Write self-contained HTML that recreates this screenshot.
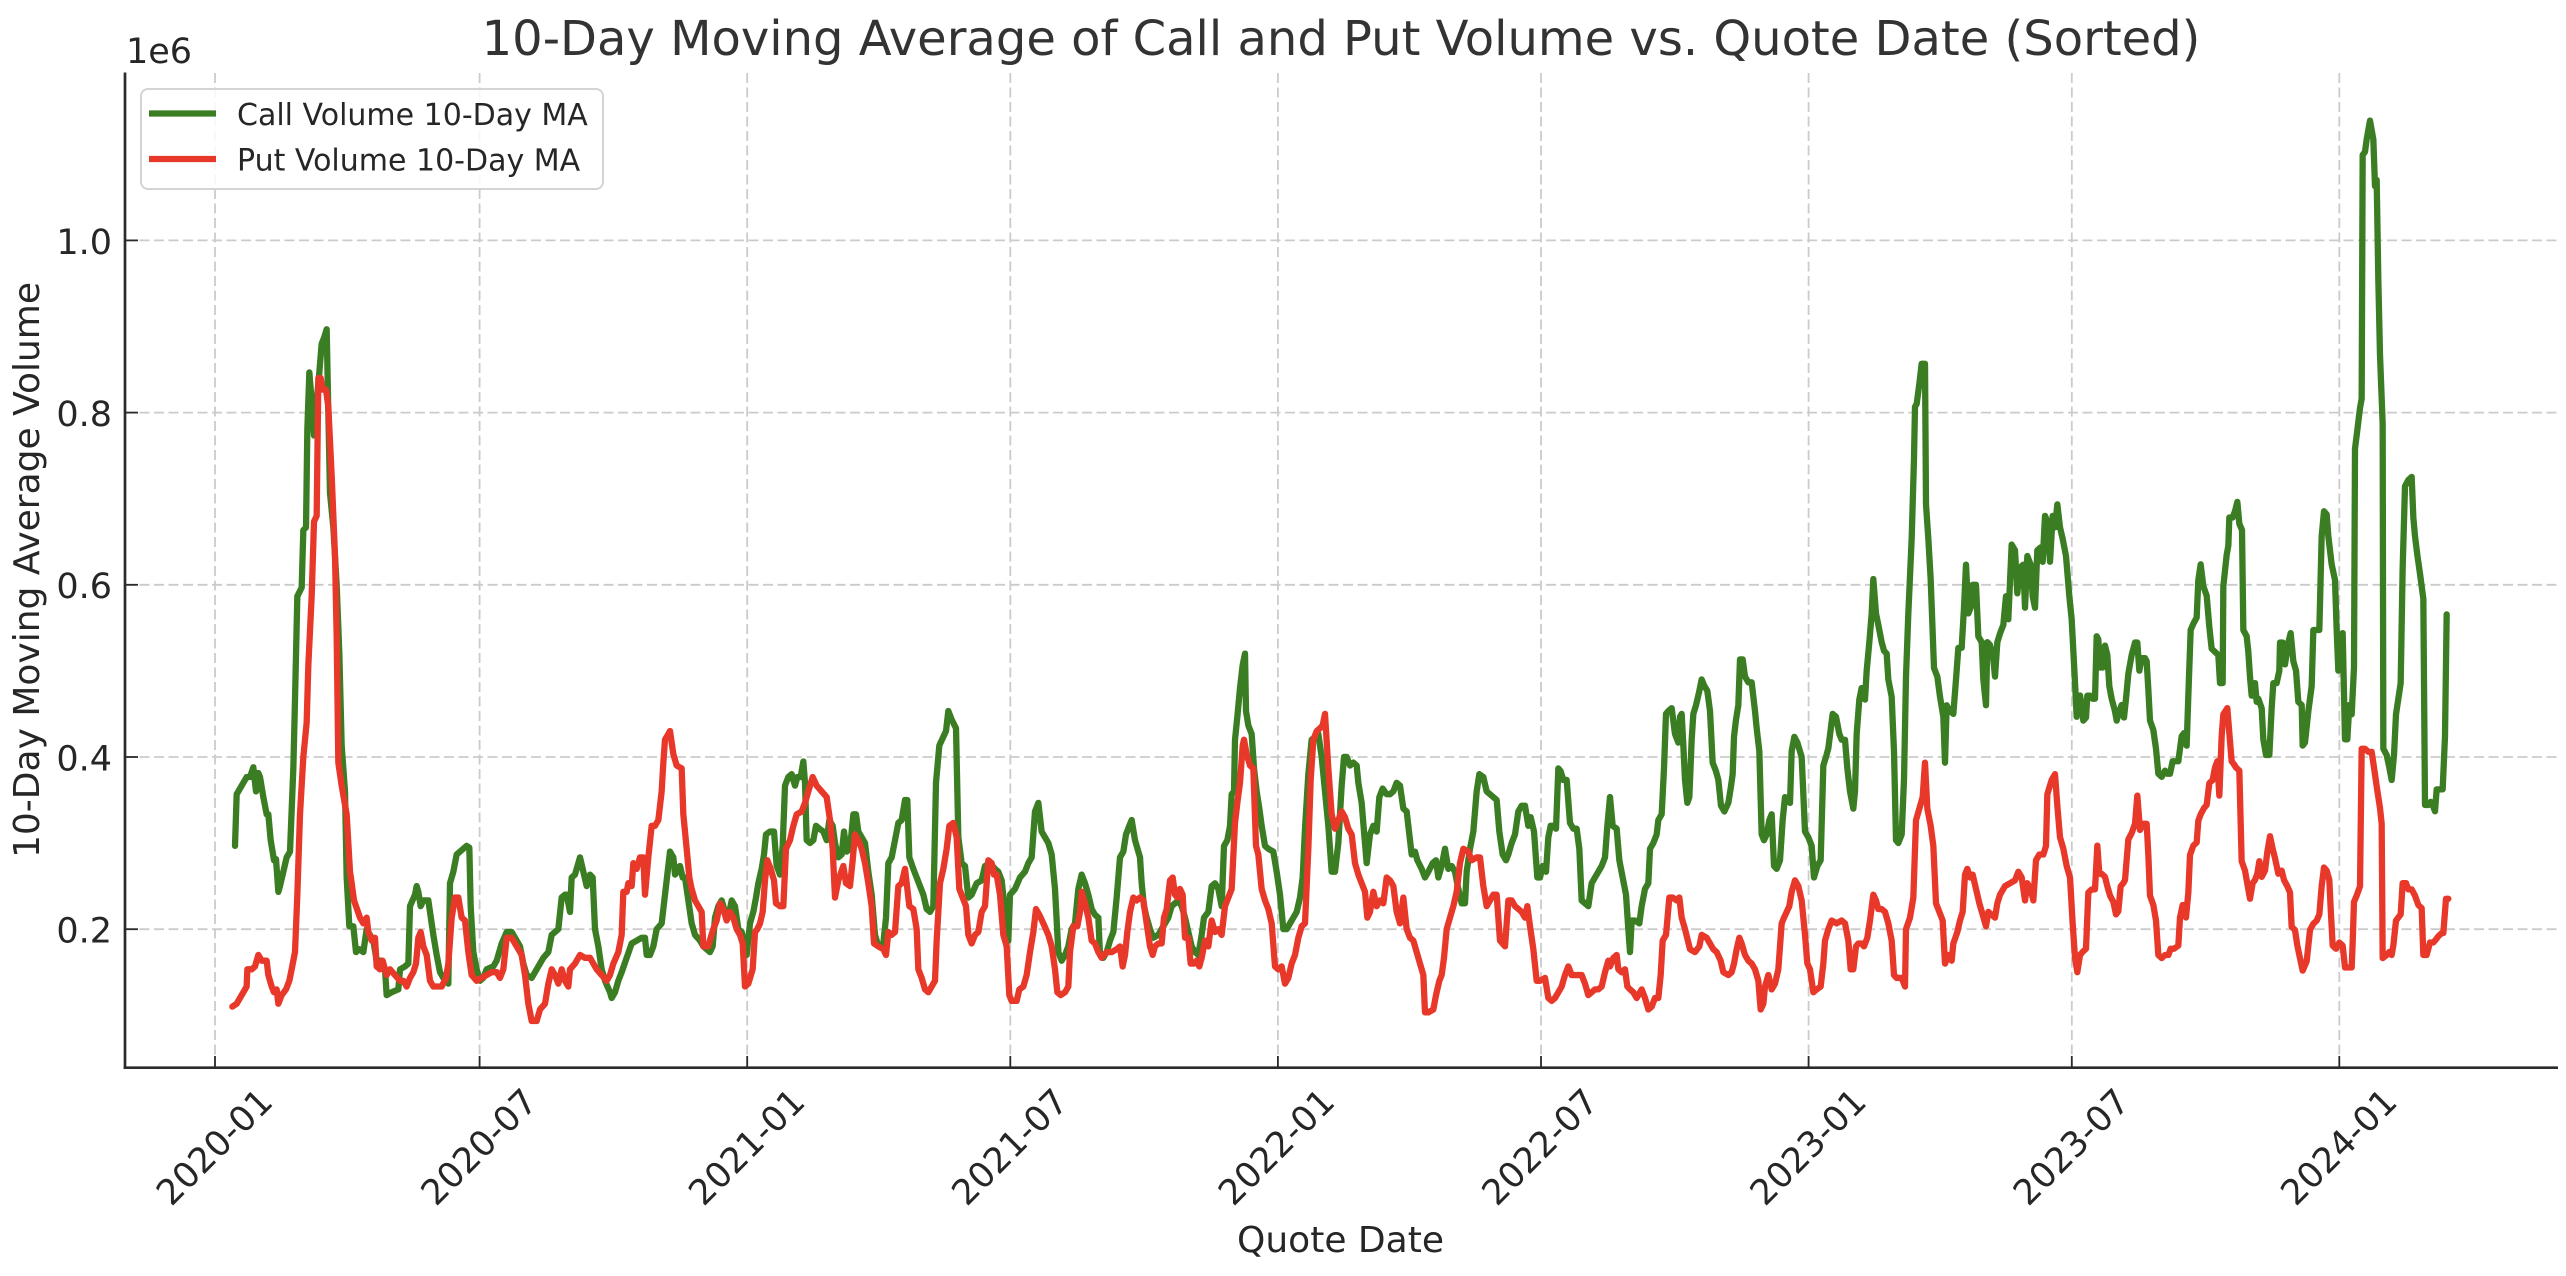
<!DOCTYPE html>
<html><head><meta charset="utf-8"><style>
html,body{margin:0;padding:0;background:#fff;}
svg{display:block;}
text{font-family:"DejaVu Sans","Liberation Sans",sans-serif;fill:#262626;}
</style></head><body>
<svg width="2566" height="1276" viewBox="0 0 2566 1276" xmlns="http://www.w3.org/2000/svg">
<rect width="2566" height="1276" fill="#fff"/>
<!-- grid -->
<g stroke="#cbcbcb" stroke-width="1.8" stroke-dasharray="10 4.5" fill="none">
<line x1="215" y1="73" x2="215" y2="1068"/>
<line x1="479.6" y1="73" x2="479.6" y2="1068"/>
<line x1="747.2" y1="73" x2="747.2" y2="1068"/>
<line x1="1010.3" y1="73" x2="1010.3" y2="1068"/>
<line x1="1277.9" y1="73" x2="1277.9" y2="1068"/>
<line x1="1541" y1="73" x2="1541" y2="1068"/>
<line x1="1808.6" y1="73" x2="1808.6" y2="1068"/>
<line x1="2071.8" y1="73" x2="2071.8" y2="1068"/>
<line x1="2339.3" y1="73" x2="2339.3" y2="1068"/>
<line x1="125" y1="240.4" x2="2557" y2="240.4"/>
<line x1="125" y1="412.6" x2="2557" y2="412.6"/>
<line x1="125" y1="584.8" x2="2557" y2="584.8"/>
<line x1="125" y1="757" x2="2557" y2="757"/>
<line x1="125" y1="929.2" x2="2557" y2="929.2"/>
</g>
<!-- series -->
<g fill="none" stroke-linejoin="round" stroke-linecap="round">
<g stroke="#3a7d22">
<polyline vector-effect="non-scaling-stroke" stroke-width="6.3" transform="translate(200,160) scale(0.333333,0.57398)" points="105,1195 110,1105 140,1075 150,1075 160,1058 168,1100 175,1068 180,1075 190,1110 200,1140 205,1140 212,1185 222,1220 228,1218 232,1250 235,1275 240,1265 250,1240 260,1215 270,1205 280,1060 285,940 292,760 305,745 310,645 318,640 322,470 328,370 335,420 342,480 350,420 358,370 365,320 372,310 380,295 385,440 390,580 400,640 410,740 418,860 425,1020 435,1100 440,1250 448,1335 460,1335 468,1380 478,1375 490,1380 500,1340 510,1350 520,1360 530,1395 545,1395 555,1410 560,1455 575,1450 595,1445 600,1410 615,1405 625,1400 630,1300 645,1280 650,1265 655,1275 662,1300 670,1290 685,1290 690,1310 700,1350 710,1385 720,1415 735,1430 745,1435 750,1260 760,1240 770,1210 780,1205 790,1200 800,1195 808,1198 812,1300 820,1380 830,1410 840,1430 850,1425 860,1410 880,1405 890,1395 905,1365 920,1345 935,1345 945,1355 960,1370 970,1400 980,1420 995,1425 1005,1415 1020,1400 1030,1390 1045,1380 1055,1350 1065,1345 1075,1340 1085,1285 1095,1280 1100,1280 1110,1310 1115,1250 1125,1245 1140,1215 1148,1235 1160,1265 1170,1245 1178,1250 1185,1340 1195,1370 1205,1410 1215,1430 1230,1450 1235,1460 1245,1450 1255,1430 1265,1415 1280,1390 1295,1365 1310,1360 1325,1355 1335,1355 1340,1385 1350,1385 1360,1370 1370,1340 1385,1330 1395,1280 1410,1205"/>
<polyline vector-effect="non-scaling-stroke" stroke-width="6.3" transform="translate(670,160) scale(0.333333,0.57398)" points="0,1205 10,1215 15,1245 22,1240 30,1230 38,1250 45,1250 55,1290 65,1330 75,1350 90,1360 100,1370 110,1375 120,1380 128,1370 135,1320 145,1300 155,1290 165,1310 175,1320 185,1290 195,1300 205,1340 215,1345 222,1360 230,1385 240,1330 250,1310 258,1285 265,1260 275,1235 282,1210 288,1175 300,1170 312,1170 320,1230 330,1245 338,1195 345,1090 355,1075 365,1070 375,1090 382,1075 392,1075 400,1048 405,1085 410,1185 420,1190 430,1185 438,1160 448,1165 460,1170 470,1185 478,1150 488,1160 495,1190 505,1215 515,1210 522,1170 530,1205 540,1200 550,1140 558,1140 565,1170 575,1180 585,1190 595,1240 605,1280 615,1350 625,1370 640,1365 648,1320 655,1225 665,1215 675,1185 685,1155 695,1150 705,1115 712,1115 718,1215 730,1235 740,1250 750,1265 760,1280 770,1305 780,1310 790,1300 798,1085 808,1020 820,1005 828,995 835,960 845,975 858,990 865,1180 875,1225 885,1230 895,1285 905,1280 920,1260 935,1255 945,1230 960,1225 975,1235 985,1240 995,1255 1005,1310 1015,1360 1020,1280 1035,1270 1050,1250 1065,1240 1075,1225 1085,1215 1095,1135 1105,1120 1115,1170 1125,1180 1135,1190 1145,1210 1155,1270 1165,1380 1175,1395 1185,1385 1195,1370 1205,1340 1215,1330 1225,1270 1235,1245 1245,1260 1255,1280 1265,1305 1275,1315 1285,1320 1290,1385 1300,1390 1310,1380 1320,1360 1330,1345 1340,1285 1350,1215 1360,1205 1368,1175 1378,1160 1385,1150 1395,1185 1410,1215"/>
<polyline vector-effect="non-scaling-stroke" stroke-width="6.3" transform="translate(1140,160) scale(0.333333,0.57398)" points="0,1215 5,1260 12,1300 20,1320 30,1340 40,1355 55,1350 65,1340 75,1330 85,1320 95,1300 105,1295 115,1290 125,1300 135,1320 145,1345 155,1370 165,1380 175,1385 185,1350 192,1320 205,1310 215,1265 225,1260 235,1270 245,1300 252,1195 262,1185 270,1160 275,1105 282,1100 285,1010 292,970 300,920 308,880 315,860 318,960 325,985 335,1000 342,1060 350,1100 358,1130 365,1160 375,1195 385,1200 400,1205 410,1240 420,1280 430,1340 440,1340 450,1330 460,1320 470,1310 480,1285 488,1250 495,1165 505,1070 515,1010 525,1005 535,1000 545,1040 555,1100 565,1160 575,1240 585,1240 595,1190 605,1090 612,1040 620,1040 630,1055 640,1050 650,1055 655,1085 665,1120 672,1170 680,1225 690,1175 700,1160 710,1170 718,1110 728,1095 740,1105 750,1105 760,1100 770,1085 780,1090 790,1130 800,1135 808,1175 815,1210 825,1205 832,1220 845,1235 855,1250 865,1240 878,1225 888,1220 895,1250 905,1230 915,1200 925,1235 935,1230 945,1240 955,1270 965,1295 975,1295 980,1240 990,1200 1000,1170 1010,1100 1018,1070 1030,1075 1040,1100 1050,1105 1060,1110 1070,1115 1078,1170 1088,1210 1098,1220 1105,1210 1115,1190 1125,1175 1135,1135 1145,1125 1155,1125 1165,1160 1172,1145 1182,1170 1192,1250 1200,1250 1208,1230 1218,1240 1225,1180 1232,1160 1240,1160 1248,1165 1255,1060 1262,1065 1270,1080 1280,1080 1290,1155 1300,1165 1310,1165 1318,1200 1325,1290 1335,1295 1345,1300 1355,1260 1365,1250 1375,1240 1385,1230 1395,1215 1402,1160 1410,1110"/>
<polyline vector-effect="non-scaling-stroke" stroke-width="6.3" transform="translate(1610,160) scale(0.333333,0.57398)" points="0,1110 8,1160 20,1165 28,1220 38,1250 48,1280 55,1340 60,1380 65,1325 75,1325 88,1330 95,1300 105,1270 115,1260 120,1200 130,1190 140,1175 145,1150 155,1140 162,1060 168,965 175,960 185,955 195,1000 205,1015 210,970 215,965 220,1020 225,1080 232,1120 238,1110 245,1010 250,965 258,950 268,925 275,905 282,915 292,925 300,960 308,1050 318,1065 325,1080 333,1125 343,1135 355,1120 362,1095 368,1070 372,1005 378,975 385,950 390,870 398,870 405,900 415,910 425,910 435,960 440,990 448,1030 455,1175 462,1185 470,1175 478,1150 485,1140 492,1230 500,1235 510,1220 518,1150 525,1110 535,1115 540,1120 545,1030 553,1005 562,1015 575,1040 585,1170 595,1180 605,1195 612,1250 622,1230 632,1220 640,1055 648,1040 655,1025 668,965 678,970 688,1000 695,1010 705,1010 712,1060 720,1100 730,1130 735,1100 740,1000 748,940 755,920 765,940 770,890 778,840 785,790 790,730 798,790 805,810 815,840 822,855 830,860 835,905 845,935 852,1030 858,1185 865,1190 875,1175 882,1080 888,900 895,790 905,660 912,520 915,430 920,425 928,390 935,355 945,355 948,600 955,660 962,730 972,885 982,900 990,935 1000,970 1005,1050 1010,950 1020,960 1030,965 1038,905 1045,850 1055,850 1062,780 1068,705 1075,790 1082,780 1088,740 1098,740 1105,830 1115,840 1120,905 1128,950 1132,840 1140,845 1150,870 1155,900 1162,840 1170,825 1180,810 1188,760 1195,800 1205,670 1215,680 1222,755 1230,710 1240,705 1245,780 1252,690 1262,705 1268,760 1275,780 1282,680 1292,675 1298,700 1305,620 1312,630 1320,700 1328,620 1335,640 1342,600 1350,640 1358,660 1368,690 1378,760 1385,800 1395,910 1400,970 1410,933"/>
<polyline vector-effect="non-scaling-stroke" stroke-width="6.3" transform="translate(2080,80) scale(0.333333,0.625)" points="0,985 5,1000 10,1025 18,1020 22,985 30,985 38,990 45,990 50,890 55,895 60,940 68,940 75,905 82,920 88,970 95,990 105,1010 110,1025 118,1010 125,1000 132,1020 138,990 145,950 155,920 165,900 172,900 178,945 185,925 195,925 200,930 205,975 210,1025 220,1040 228,1070 235,1110 245,1115 255,1105 262,1110 270,1110 278,1090 285,1090 295,1090 300,1070 305,1050 312,1045 320,1065 325,985 332,880 340,870 350,860 355,800 362,775 370,810 380,825 388,875 395,910 405,915 415,920 420,965 428,965 430,810 440,760 445,745 448,700 458,700 465,690 472,675 478,710 486,720 490,880 500,890 505,915 510,955 515,985 520,985 525,965 530,995 535,990 545,1005 550,1055 558,1080 568,1080 575,1005 580,965 590,965 598,945 600,900 608,900 615,935 625,900 632,885 640,930 648,945 655,995 665,1000 668,1065 675,1060 685,1010 695,970 700,880 708,880 718,880 725,730 732,690 740,695 745,730 755,775 765,800 770,880 775,945 780,900 788,885 795,1055 802,1055 808,1000 815,1015 822,940 825,590 832,560 840,525 845,510 848,120 855,115 860,95 865,80 870,65 880,95 885,170 890,160 895,320 900,440 908,550 910,1070 920,1080 928,1100 935,1120 942,1080 948,1015 955,990 962,965 968,780 975,650 985,640 995,635 1000,700 1005,730 1012,760 1020,790 1030,830 1035,1160 1045,1160 1052,1155 1058,1160 1065,1170 1070,1135 1080,1135 1088,1135 1095,1050 1100,855"/>
</g>
<g stroke="#e8382a">
<polyline vector-effect="non-scaling-stroke" stroke-width="6.3" transform="translate(200,160) scale(0.333333,0.57398)" points="97,1475 110,1470 125,1455 140,1440 142,1410 155,1410 165,1405 175,1385 185,1395 200,1395 205,1420 215,1440 222,1450 230,1445 235,1470 245,1455 258,1445 268,1430 275,1410 285,1380 292,1280 300,1140 310,1040 320,980 325,880 335,760 342,630 350,620 355,380 362,380 368,400 378,400 385,430 395,550 405,690 410,830 415,1050 425,1090 440,1140 450,1240 455,1260 462,1290 468,1300 480,1320 490,1330 500,1320 505,1345 515,1360 525,1355 530,1405 540,1410 548,1395 555,1410 560,1420 570,1410 585,1420 600,1430 610,1430 620,1440 630,1425 640,1415 648,1400 655,1355 662,1345 670,1370 680,1385 690,1430 700,1440 715,1440 725,1440 738,1425 745,1400 755,1320 765,1285 775,1285 785,1320 795,1325 805,1380 815,1420 830,1430 845,1425 860,1420 875,1415 890,1415 900,1425 910,1410 920,1355 935,1355 945,1365 955,1375 965,1385 975,1420 985,1470 995,1500 1010,1500 1020,1480 1035,1470 1045,1435 1055,1410 1065,1420 1075,1435 1085,1410 1095,1430 1105,1440 1110,1410 1125,1400 1140,1385 1155,1390 1170,1390 1180,1400 1190,1410 1205,1420 1220,1430 1230,1420 1240,1400 1255,1380 1265,1350 1270,1275 1280,1275 1285,1260 1295,1265 1300,1225 1310,1235 1320,1215 1330,1215 1335,1280 1345,1215 1355,1160 1365,1160 1375,1150 1385,1100 1390,1050 1395,1010 1410,995"/>
<polyline vector-effect="non-scaling-stroke" stroke-width="6.3" transform="translate(670,160) scale(0.333333,0.57398)" points="0,995 10,1035 20,1055 35,1060 40,1140 50,1200 58,1250 65,1270 75,1290 85,1300 95,1310 100,1370 115,1370 122,1355 130,1340 140,1325 150,1295 160,1305 170,1325 180,1310 190,1320 200,1340 210,1350 218,1365 225,1440 235,1435 248,1410 255,1345 262,1340 270,1330 278,1310 285,1255 292,1220 302,1235 312,1255 318,1295 330,1300 340,1300 348,1200 360,1185 370,1160 380,1140 395,1135 405,1120 415,1100 428,1075 440,1090 455,1100 470,1110 480,1150 488,1200 495,1285 505,1255 520,1230 528,1260 540,1265 548,1220 555,1175 565,1185 575,1200 585,1225 595,1260 605,1300 612,1365 625,1370 640,1375 648,1385 655,1345 665,1350 675,1345 685,1265 695,1260 705,1235 710,1260 718,1300 730,1305 740,1340 745,1410 755,1425 765,1445 775,1450 785,1440 795,1430 800,1360 810,1260 820,1235 830,1200 838,1160 850,1155 860,1180 868,1270 878,1285 888,1300 895,1350 905,1365 915,1350 925,1345 935,1310 945,1300 955,1220 965,1225 972,1245 980,1245 990,1280 1000,1350 1010,1370 1018,1455 1025,1465 1040,1465 1048,1445 1060,1440 1070,1420 1080,1380 1090,1345 1098,1305 1108,1315 1120,1330 1135,1350 1145,1370 1155,1410 1162,1450 1172,1455 1185,1450 1195,1440 1200,1380 1210,1335 1222,1335 1230,1310 1235,1275 1245,1295 1255,1320 1265,1360 1275,1365 1285,1380 1295,1390 1310,1380 1325,1380 1340,1375 1350,1370 1358,1405 1365,1385 1372,1345 1380,1310 1390,1285 1400,1290 1410,1285"/>
<polyline vector-effect="non-scaling-stroke" stroke-width="6.3" transform="translate(1140,160) scale(0.333333,0.57398)" points="0,1285 10,1290 20,1330 30,1370 38,1385 45,1370 55,1365 65,1365 72,1320 80,1305 90,1255 98,1250 105,1280 112,1285 120,1270 128,1280 135,1355 145,1355 152,1400 162,1400 170,1395 178,1405 185,1390 195,1360 205,1370 215,1325 225,1345 235,1340 245,1350 255,1300 265,1285 275,1270 285,1155 292,1120 300,1085 308,1020 312,1010 320,1035 330,1055 340,1060 348,1195 355,1210 365,1270 375,1290 385,1305 395,1330 405,1405 415,1410 425,1405 435,1435 445,1425 455,1400 465,1385 475,1355 485,1335 495,1330 505,1200 512,1080 520,1010 530,995 540,990 548,985 555,965 565,1060 575,1140 585,1165 595,1150 605,1135 615,1145 625,1165 635,1175 645,1225 655,1245 665,1260 675,1275 682,1320 690,1310 700,1275 710,1300 720,1290 730,1295 740,1250 750,1255 760,1265 770,1310 780,1330 790,1285 800,1340 810,1355 820,1360 830,1380 840,1400 850,1420 855,1485 865,1485 880,1480 888,1455 898,1430 905,1420 912,1390 920,1340 930,1320 940,1300 950,1275 960,1225 970,1200 985,1205 995,1220 1010,1215 1020,1215 1030,1265 1040,1300 1050,1290 1060,1280 1070,1280 1080,1360 1095,1370 1105,1290 1115,1290 1125,1300 1135,1305 1145,1310 1155,1320 1162,1300 1170,1335 1180,1375 1190,1430 1200,1430 1215,1425 1225,1460 1235,1465 1245,1460 1255,1450 1265,1440 1275,1420 1285,1405 1295,1420 1310,1420 1325,1420 1335,1435 1345,1455 1355,1450 1365,1445 1375,1445 1385,1440 1395,1415 1405,1395 1410,1400"/>
<polyline vector-effect="non-scaling-stroke" stroke-width="6.3" transform="translate(1610,160) scale(0.333333,0.57398)" points="0,1405 10,1390 20,1385 25,1410 35,1415 45,1410 52,1440 60,1445 70,1450 80,1460 95,1445 105,1460 115,1480 125,1475 135,1460 145,1460 152,1420 158,1360 168,1350 178,1285 188,1285 200,1290 208,1285 215,1320 225,1340 240,1375 255,1380 268,1370 275,1350 290,1355 300,1365 310,1375 320,1380 332,1395 340,1415 355,1420 365,1415 372,1400 380,1375 388,1355 395,1365 405,1385 415,1395 425,1400 435,1410 445,1430 452,1480 460,1470 465,1440 475,1420 485,1445 495,1435 505,1410 515,1330 522,1320 530,1310 538,1300 545,1275 555,1255 565,1265 575,1290 585,1350 592,1400 600,1410 610,1450 620,1445 632,1440 640,1400 645,1360 655,1340 665,1325 680,1330 695,1325 705,1330 715,1360 722,1410 730,1410 738,1370 745,1365 755,1365 762,1370 772,1355 780,1325 790,1280 798,1290 805,1305 815,1305 825,1310 835,1330 845,1360 852,1420 860,1425 875,1425 885,1440 888,1340 900,1320 910,1285 918,1150 928,1130 938,1110 945,1050 952,1130 962,1160 970,1195 978,1295 988,1310 998,1325 1005,1400 1015,1385 1025,1395 1030,1365 1042,1345 1050,1325 1058,1310 1065,1245 1072,1235 1080,1250 1088,1245 1098,1270 1108,1295 1118,1315 1128,1335 1135,1310 1145,1315 1155,1320 1162,1295 1170,1280 1185,1265 1200,1260 1215,1255 1225,1240 1235,1250 1245,1290 1252,1260 1262,1270 1270,1290 1278,1220 1288,1210 1300,1210 1308,1195 1312,1105 1325,1080 1335,1070 1342,1125 1350,1180 1360,1200 1370,1230 1380,1250 1388,1330 1395,1390 1402,1415 1410,1385"/>
<polyline vector-effect="non-scaling-stroke" stroke-width="6.3" transform="translate(2080,80) scale(0.333333,0.625)" points="0,1400 8,1395 18,1390 25,1300 35,1295 45,1295 52,1225 58,1270 65,1270 75,1275 82,1290 90,1305 100,1315 108,1335 115,1330 122,1290 130,1285 135,1280 145,1215 155,1205 165,1190 172,1145 180,1200 190,1190 200,1190 205,1240 210,1305 220,1320 228,1345 235,1400 245,1405 255,1400 265,1400 272,1390 282,1390 295,1385 300,1340 308,1320 318,1340 325,1300 330,1240 340,1225 350,1220 355,1185 362,1175 372,1165 380,1160 388,1125 398,1120 405,1100 412,1090 418,1145 425,1050 430,1015 442,1005 448,1045 455,1090 462,1095 468,1100 478,1105 485,1250 495,1265 500,1280 510,1310 518,1285 525,1280 532,1270 538,1250 545,1275 555,1265 562,1235 570,1210 578,1230 585,1245 595,1270 605,1265 612,1280 622,1290 630,1300 635,1355 645,1360 652,1385 660,1405 668,1425 680,1410 690,1360 700,1350 710,1345 718,1335 725,1290 732,1260 740,1265 748,1280 752,1325 758,1385 768,1390 778,1380 788,1385 795,1420 805,1420 815,1420 818,1380 822,1315 830,1305 840,1290 845,1070 855,1070 865,1075 875,1075 882,1100 890,1130 900,1165 905,1190 908,1405 920,1400 928,1395 935,1400 940,1385 948,1345 955,1340 962,1335 968,1285 978,1285 985,1295 995,1295 1005,1305 1015,1320 1025,1325 1030,1400 1040,1400 1050,1380 1060,1380 1068,1375 1075,1370 1085,1365 1090,1365 1098,1310 1105,1310"/>
</g>
</g>
<!-- spines -->
<g stroke="#2b2b2b" fill="none">
<line x1="125" y1="72.5" x2="125" y2="1069" stroke-width="2.7"/>
<line x1="123.7" y1="1067.7" x2="2558" y2="1067.7" stroke-width="2.7"/>
</g>
<!-- ticks (inward) -->
<g stroke="#2b2b2b" stroke-width="1.8">
<line x1="215" y1="1056" x2="215" y2="1067"/>
<line x1="479.6" y1="1056" x2="479.6" y2="1067"/>
<line x1="747.2" y1="1056" x2="747.2" y2="1067"/>
<line x1="1010.3" y1="1056" x2="1010.3" y2="1067"/>
<line x1="1277.9" y1="1056" x2="1277.9" y2="1067"/>
<line x1="1541" y1="1056" x2="1541" y2="1067"/>
<line x1="1808.6" y1="1056" x2="1808.6" y2="1067"/>
<line x1="2071.8" y1="1056" x2="2071.8" y2="1067"/>
<line x1="2339.3" y1="1056" x2="2339.3" y2="1067"/>
<line x1="126" y1="240.4" x2="138" y2="240.4"/>
<line x1="126" y1="412.6" x2="138" y2="412.6"/>
<line x1="126" y1="584.8" x2="138" y2="584.8"/>
<line x1="126" y1="757" x2="138" y2="757"/>
<line x1="126" y1="929.2" x2="138" y2="929.2"/>
</g>
<!-- y tick labels -->
<g font-size="35" text-anchor="end">
<text x="112" y="254">1.0</text>
<text x="112" y="426">0.8</text>
<text x="112" y="598">0.6</text>
<text x="112" y="770.5">0.4</text>
<text x="112" y="942.5">0.2</text>
</g>
<text x="126" y="63" font-size="35">1e6</text>
<!-- x tick labels -->
<g font-size="35" text-anchor="middle">
<text x="0" y="12.7" transform="translate(214,1146.5) rotate(-45)">2020-01</text>
<text x="0" y="12.7" transform="translate(478.6,1146.5) rotate(-45)">2020-07</text>
<text x="0" y="12.7" transform="translate(746.2,1146.5) rotate(-45)">2021-01</text>
<text x="0" y="12.7" transform="translate(1009.3,1146.5) rotate(-45)">2021-07</text>
<text x="0" y="12.7" transform="translate(1276,1146.5) rotate(-45)">2022-01</text>
<text x="0" y="12.7" transform="translate(1539.5,1146.5) rotate(-45)">2022-07</text>
<text x="0" y="12.7" transform="translate(1807.6,1146.5) rotate(-45)">2023-01</text>
<text x="0" y="12.7" transform="translate(2070.8,1146.5) rotate(-45)">2023-07</text>
<text x="0" y="12.7" transform="translate(2338.3,1146.5) rotate(-45)">2024-01</text>
</g>
<!-- axis labels -->
<text x="1340.5" y="1252" font-size="36" text-anchor="middle">Quote Date</text>
<text x="0" y="0" font-size="36" text-anchor="middle" transform="translate(39,570) rotate(-90)">10-Day Moving Average Volume</text>
<!-- title -->
<text x="1341" y="55" font-size="48" text-anchor="middle" style="fill:#333">10-Day Moving Average of Call and Put Volume vs. Quote Date (Sorted)</text>
<!-- legend -->
<rect x="141" y="89" width="462" height="100" rx="7" ry="7" fill="#fff" fill-opacity="0.85" stroke="#d4d4d4" stroke-width="2"/>
<line x1="149" y1="113.5" x2="216" y2="113.5" stroke="#3a7d22" stroke-width="6.3"/>
<line x1="149" y1="159" x2="216" y2="159" stroke="#e8382a" stroke-width="6.3"/>
<g font-size="30" style="fill:#333">
<text x="237" y="125">Call Volume 10-Day MA</text>
<text x="237" y="170.5">Put Volume 10-Day MA</text>
</g>
</svg>
</body></html>
